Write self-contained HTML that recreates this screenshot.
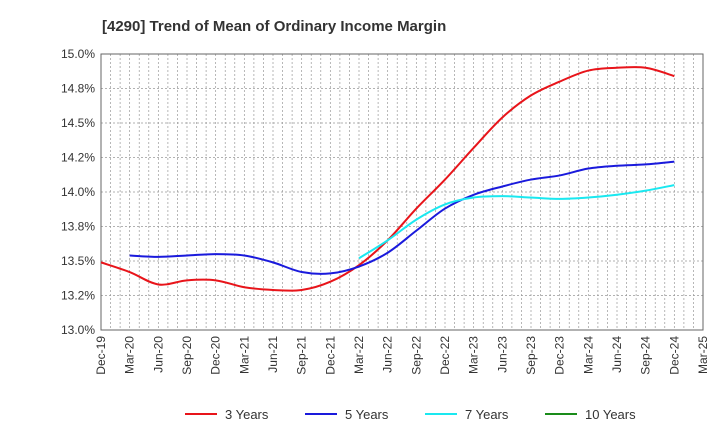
<!DOCTYPE html>
<html><head><meta charset="utf-8"><style>
body{margin:0;background:#fff;font-family:"Liberation Sans",sans-serif;}
</style></head><body>
<svg id="chart" width="720" height="440" xmlns="http://www.w3.org/2000/svg">
<text x="102" y="31" font-size="15" font-weight="bold" fill="#333">[4290]  Trend of Mean of Ordinary Income Margin</text>
<g id="grid"></g><g id="axes"></g><g id="series"></g><g id="legend"></g>
</svg>
<script>
const xLabels=["Dec-19","Mar-20","Jun-20","Sep-20","Dec-20","Mar-21","Jun-21","Sep-21","Dec-21","Mar-22","Jun-22","Sep-22","Dec-22","Mar-23","Jun-23","Sep-23","Dec-23","Mar-24","Jun-24","Sep-24","Dec-24","Mar-25"];
const yTicks=[13.0,13.25,13.5,13.75,14.0,14.25,14.5,14.75,15.0];
const yTickLabels=["13.0%","13.2%","13.5%","13.8%","14.0%","14.2%","14.5%","14.8%","15.0%"];
const seriesNames=["3 Years","5 Years","7 Years","10 Years"];
const seriesColors=["#e8141a","#1a1adc","#1ae8f0","#1a8c1a"];
const y3=[13.49,13.42,13.33,13.36,13.36,13.31,13.29,13.29,13.35,13.47,13.65,13.88,14.09,14.32,14.54,14.70,14.80,14.88,14.90,14.90,14.84];
const y5=[null,13.54,13.53,13.54,13.55,13.54,13.49,13.42,13.41,13.46,13.56,13.72,13.88,13.98,14.04,14.09,14.12,14.17,14.19,14.20,14.22];
const y7=[null,null,null,null,null,null,null,null,null,13.52,13.65,13.80,13.91,13.96,13.97,13.96,13.95,13.96,13.98,14.01,14.05];
const y10=[];
const L=101,R=703,T=54,B=330;
const xs=i=>L+(R-L)*i/(xLabels.length-1);
const ys=v=>B-(v-13)/2*(B-T);
const NS="http://www.w3.org/2000/svg";
function mk(tag,attrs,parent){const e=document.createElementNS(NS,tag);for(const k in attrs)e.setAttribute(k,attrs[k]);parent.appendChild(e);return e;}
const grid=document.getElementById('grid'),axes=document.getElementById('axes'),ser=document.getElementById('series'),leg=document.getElementById('legend');
for(let m=0;m<=63;m++){const x=L+(R-L)*m/63;const g=mk('line',{x1:x,x2:x,y1:T,y2:B,stroke:'#999','stroke-dasharray':'2,2','stroke-width':0.7},grid);

}
yTicks.forEach((v,i)=>{const y=ys(v);const g=mk('line',{x1:L,x2:R,y1:y,y2:y,stroke:'#999','stroke-dasharray':'2,2','stroke-width':0.7},grid);


const t=mk('text',{x:L-6,y:y+4,'text-anchor':'end','font-size':12,fill:'#333'},axes);t.textContent=yTickLabels[i];

});
const fr=mk('rect',{x:L,y:T,width:R-L,height:B-T,fill:'none',stroke:'#666'},axes);


xLabels.forEach((s,i)=>{const x=xs(i);const t=mk('text',{x:x+4,y:B+6,'text-anchor':'end','font-size':12,fill:'#333',transform:`rotate(-90 ${x+4} ${B+6})`},axes);t.textContent=s;

});
function path(arr){const p=[];arr.forEach((v,i)=>{if(v!=null)p.push([xs(i),ys(v)]);});if(p.length<2)return'';
let d=`M${p[0][0]},${p[0][1]}`;for(let i=0;i<p.length-1;i++){const p0=p[i-1]||p[i],p1=p[i],p2=p[i+1],p3=p[i+2]||p2;
d+=` C${p1[0]+(p2[0]-p0[0])/6},${p1[1]+(p2[1]-p0[1])/6} ${p2[0]-(p3[0]-p1[0])/6},${p2[1]-(p3[1]-p1[1])/6} ${p2[0]},${p2[1]}`;}return d;}
const data=[y3,y5,y7,y10];const names=["line-3-years","line-5-years","line-7-years","line-10-years"];
data.forEach((a,k)=>{const d=path(a);if(!d)return;const e=mk('path',{d:d,fill:'none',stroke:seriesColors[k],'stroke-width':2},ser);

});
const lx=[185,305,425,545];
seriesNames.forEach((n,k)=>{const g=mk('g',{},leg);


mk('line',{x1:lx[k],x2:lx[k]+32,y1:414,y2:414,stroke:seriesColors[k],'stroke-width':2},g);
const t=mk('text',{x:lx[k]+40,y:419,'font-size':13,fill:'#333'},g);t.textContent=n;});
</script>
</body></html>
